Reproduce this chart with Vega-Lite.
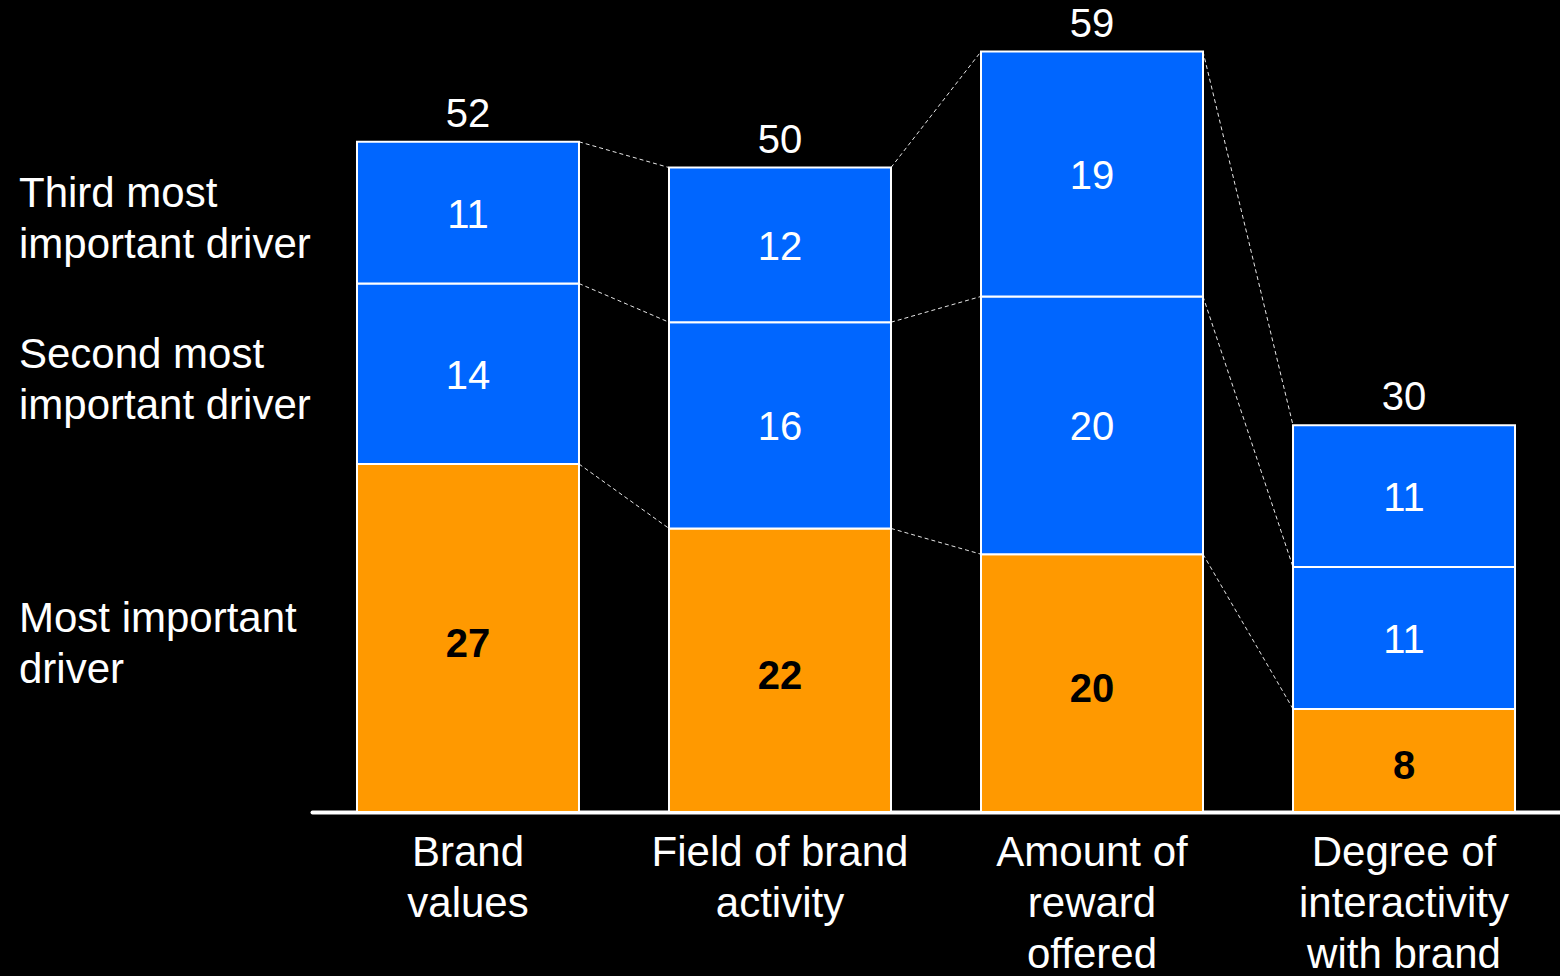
{
  "$schema": "https://vega.github.io/schema/vega-lite/v6.json",
  "width": 1248,
  "height": 812,
  "autosize": {"type": "none"},
  "padding": {"left": 312, "top": 0, "right": 0, "bottom": 164},
  "background": "#000000",
  "config": {"view": {"stroke": null}, "font": "Liberation Sans"},
  "datasets": {
    "shares": [
      {"factor": "Brand\nvalues", "driver": "Most important\ndriver", "rank": 1, "share": 27},
      {"factor": "Brand\nvalues", "driver": "Second most\nimportant driver", "rank": 2, "share": 14},
      {"factor": "Brand\nvalues", "driver": "Third most\nimportant driver", "rank": 3, "share": 11},
      {"factor": "Field of brand\nactivity", "driver": "Most important\ndriver", "rank": 1, "share": 22},
      {"factor": "Field of brand\nactivity", "driver": "Second most\nimportant driver", "rank": 2, "share": 16},
      {"factor": "Field of brand\nactivity", "driver": "Third most\nimportant driver", "rank": 3, "share": 12},
      {"factor": "Amount of\nreward\noffered", "driver": "Most important\ndriver", "rank": 1, "share": 20},
      {"factor": "Amount of\nreward\noffered", "driver": "Second most\nimportant driver", "rank": 2, "share": 20},
      {"factor": "Amount of\nreward\noffered", "driver": "Third most\nimportant driver", "rank": 3, "share": 19},
      {"factor": "Degree of\ninteractivity\nwith brand", "driver": "Most important\ndriver", "rank": 1, "share": 8},
      {"factor": "Degree of\ninteractivity\nwith brand", "driver": "Second most\nimportant driver", "rank": 2, "share": 11},
      {"factor": "Degree of\ninteractivity\nwith brand", "driver": "Third most\nimportant driver", "rank": 3, "share": 11}
    ],
    "links": [
      {"from": "Brand\nvalues", "to": "Field of brand\nactivity", "level_from": 52, "level_to": 50},
      {"from": "Brand\nvalues", "to": "Field of brand\nactivity", "level_from": 41, "level_to": 38},
      {"from": "Brand\nvalues", "to": "Field of brand\nactivity", "level_from": 27, "level_to": 22},
      {"from": "Field of brand\nactivity", "to": "Amount of\nreward\noffered", "level_from": 50, "level_to": 59},
      {"from": "Field of brand\nactivity", "to": "Amount of\nreward\noffered", "level_from": 38, "level_to": 40},
      {"from": "Field of brand\nactivity", "to": "Amount of\nreward\noffered", "level_from": 22, "level_to": 20},
      {"from": "Amount of\nreward\noffered", "to": "Degree of\ninteractivity\nwith brand", "level_from": 59, "level_to": 30},
      {"from": "Amount of\nreward\noffered", "to": "Degree of\ninteractivity\nwith brand", "level_from": 40, "level_to": 19},
      {"from": "Amount of\nreward\noffered", "to": "Degree of\ninteractivity\nwith brand", "level_from": 20, "level_to": 8}
    ]
  },
  "layer": [
    {
      "data": {"name": "shares"},
      "mark": {"type": "bar", "stroke": "#ffffff", "strokeWidth": 2},
      "encoding": {
        "x": {
          "field": "factor",
          "type": "nominal",
          "scale": {
            "domain": ["Brand\nvalues", "Field of brand\nactivity", "Amount of\nreward\noffered", "Degree of\ninteractivity\nwith brand"],
            "paddingInner": 0.2885,
            "paddingOuter": 0.1442
          },
          "axis": {
            "title": null,
            "labelExpr": "split(datum.label, '\\n')",
            "labelFontSize": 42,
            "labelColor": "#ffffff",
            "labelLineHeight": 51,
            "labelPadding": 20,
            "labelAngle": 0,
            "labelBaseline": "top",
            "labelLimit": 600,
            "ticks": false,
            "domainColor": "#ffffff",
            "domainWidth": 4,
            "domainCap": "round",
            "grid": false
          }
        },
        "y": {
          "field": "share",
          "type": "quantitative",
          "stack": "zero",
          "scale": {"domain": [0, 63], "nice": false},
          "axis": null
        },
        "color": {
          "field": "driver",
          "type": "nominal",
          "scale": {
            "domain": ["Most important\ndriver", "Second most\nimportant driver", "Third most\nimportant driver"],
            "range": ["#FF9900", "#0066FF", "#0066FF"]
          },
          "legend": null
        },
        "order": {"field": "rank", "type": "quantitative"}
      }
    },
    {
      "data": {"name": "links"},
      "mark": {"type": "rule", "color": "#ffffff", "strokeWidth": 1, "strokeDash": [4, 3], "opacity": 0.9},
      "encoding": {
        "x": {"field": "from", "type": "nominal", "bandPosition": 1},
        "x2": {"field": "to", "bandPosition": 0},
        "y": {"field": "level_from", "type": "quantitative"},
        "y2": {"field": "level_to"}
      }
    },
    {
      "data": {"name": "shares"},
      "mark": {"type": "text", "fontSize": 40, "color": "#ffffff", "baseline": "middle", "dy": 3},
      "encoding": {
        "x": {"field": "factor", "type": "nominal"},
        "y": {"field": "share", "type": "quantitative", "stack": "zero", "bandPosition": 0.5},
        "detail": {"field": "driver"},
        "order": {"field": "rank", "type": "quantitative"},
        "text": {"condition": {"test": "datum.rank > 1", "field": "share", "type": "quantitative"}, "value": ""}
      }
    },
    {
      "data": {"name": "shares"},
      "mark": {"type": "text", "fontSize": 40, "fontWeight": "bold", "color": "#000000", "baseline": "middle", "dy": 7},
      "encoding": {
        "x": {"field": "factor", "type": "nominal"},
        "y": {"field": "share", "type": "quantitative", "stack": "zero", "bandPosition": 0.5},
        "detail": {"field": "driver"},
        "order": {"field": "rank", "type": "quantitative"},
        "text": {"condition": {"test": "datum.rank == 1", "field": "share", "type": "quantitative"}, "value": ""}
      }
    },
    {
      "data": {"name": "shares"},
      "transform": [
        {"aggregate": [{"op": "sum", "field": "share", "as": "total"}], "groupby": ["factor"]}
      ],
      "mark": {"type": "text", "fontSize": 40, "color": "#ffffff", "baseline": "alphabetic", "dy": -15},
      "encoding": {
        "x": {"field": "factor", "type": "nominal"},
        "y": {"field": "total", "type": "quantitative"},
        "text": {"field": "total", "type": "quantitative"}
      }
    },
    {
      "data": {"name": "shares"},
      "transform": [{"filter": "indexof(datum.factor, 'Brand') == 0"}],
      "mark": {
        "type": "text",
        "fontSize": 42,
        "color": "#ffffff",
        "align": "left",
        "baseline": "middle",
        "lineBreak": "\n",
        "lineHeight": 51,
        "dx": -449,
        "dy": -19
      },
      "encoding": {
        "x": {"field": "factor", "type": "nominal"},
        "y": {"field": "share", "type": "quantitative", "stack": "zero", "bandPosition": 0.5},
        "detail": {"field": "driver"},
        "order": {"field": "rank", "type": "quantitative"},
        "text": {"field": "driver", "type": "nominal"}
      }
    }
  ]
}
